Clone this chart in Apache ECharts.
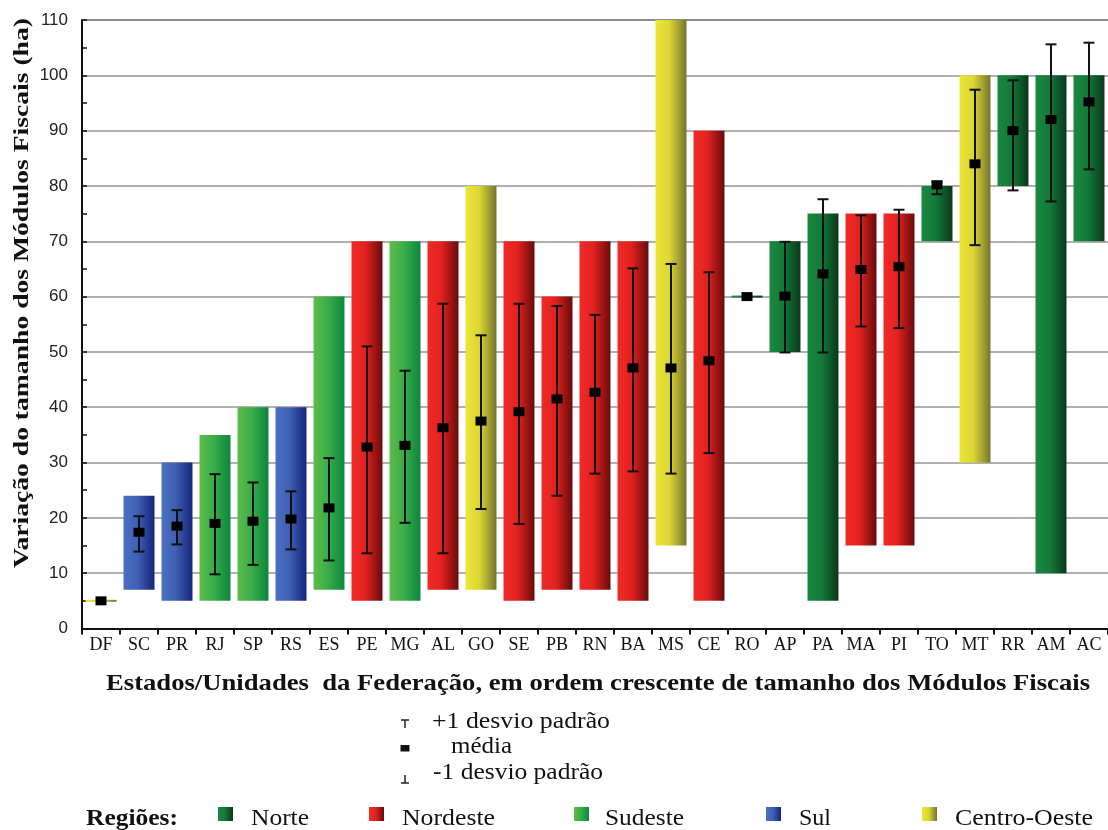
<!DOCTYPE html>
<html>
<head>
<meta charset="utf-8">
<script src="https://cdn.jsdelivr.net/npm/echarts@6/dist/echarts.min.js"></script>
<style>
  html, body { margin: 0; padding: 0; background: #fff; }
  #chart { width: 1108px; height: 830px; }
</style>
</head>
<body>
<div id="chart"></div>
<script>
// Unidades da Federação em ordem crescente de tamanho dos módulos fiscais
const states = ['DF','SC','PR','RJ','SP','RS','ES','PE','MG','AL','GO','SE','PB','RN','BA','MS','CE','RO','AP','PA','MA','PI','TO','MT','RR','AM','AC'];
const stateRegions = ['Centro-Oeste','Sul','Sul','Sudeste','Sudeste','Sul','Sudeste','Nordeste','Sudeste','Nordeste','Centro-Oeste','Nordeste','Nordeste','Nordeste','Nordeste','Centro-Oeste','Nordeste','Norte','Norte','Norte','Nordeste','Nordeste','Norte','Centro-Oeste','Norte','Norte','Norte'];

// Menor e maior módulo fiscal (ha)
const minVals = [5, 7, 5, 5, 5, 5, 7, 5, 5, 7, 7, 5, 7, 7, 5, 15, 5, 60, 50, 5, 15, 15, 70, 30, 80, 10, 70];
const maxVals = [5, 24, 30, 35, 40, 40, 60, 70, 70, 70, 80, 70, 60, 70, 70, 110, 90, 60, 70, 75, 75, 75, 80, 100, 100, 100, 100];
// Média e ±1 desvio padrão (ha)
const meanVals = [5, 17.4, 18.5, 19.0, 19.4, 19.8, 21.8, 32.8, 33.1, 36.3, 37.5, 39.2, 41.5, 42.7, 47.1, 47.1, 48.4, 60, 60.1, 64.1, 64.9, 65.4, 80.2, 84.0, 90.0, 92.0, 95.2];
const sdUpper = [null, 20.3, 21.4, 27.9, 26.4, 24.8, 30.8, 51.0, 46.6, 58.7, 53.0, 58.7, 58.3, 56.7, 65.1, 65.9, 64.4, null, 69.9, 77.6, 74.7, 75.7, 80.8, 97.4, 99.1, 105.6, 105.9];
const sdLower = [null, 13.9, 15.2, 9.8, 11.5, 14.3, 12.3, 13.6, 19.1, 13.6, 21.6, 18.9, 24.0, 28.0, 28.4, 28.0, 31.7, null, 49.9, 49.9, 54.6, 54.3, 78.5, 69.3, 79.2, 77.2, 83.0];

// Eixo Y
const yTicks = [0, 10, 20, 30, 40, 50, 60, 70, 80, 90, 100, 110];

const regionNames = ['Norte', 'Nordeste', 'Sudeste', 'Sul', 'Centro-Oeste'];
const regionColors = {
  'Norte':        ['#18893f', '#147a39', '#0a381a'],
  'Nordeste':     ['#f02a26', '#e2221f', '#680b0b'],
  'Sudeste':      ['#5fbb4b', '#3aae48', '#0c873d'],
  'Sul':          ['#4b6fc3', '#3f60b3', '#15257a'],
  'Centro-Oeste': ['#ece636', '#dbd633', '#75752f']
};

function grad(region) {
  const c = regionColors[region];
  return new echarts.graphic.LinearGradient(0, 0, 1, 0, [
    { offset: 0, color: c[0] },
    { offset: 0.45, color: c[1] },
    { offset: 1, color: c[2] }
  ]);
}

const SERIF = '"Liberation Serif", "Times New Roman", serif';

// stretch a text element horizontally so it spans a given width
const measureCtx = document.createElement('canvas').getContext('2d');
function fitScale(text, font, width) {
  measureCtx.font = font;
  return width / measureCtx.measureText(text).width;
}

const chart = echarts.init(document.getElementById('chart'), null, { renderer: 'canvas' });

const rangeData = states.map((s, i) => [i, minVals[i], maxVals[i]]);
const errData = states.map((s, i) => [i, sdLower[i], sdUpper[i]]).filter(d => d[1] != null);
const meanData = states.map((s, i) => [i, meanVals[i]]);

const xTitle = 'Estados/Unidades  da Federação, em ordem crescente de tamanho dos Módulos Fiscais';
const xTitleFont = 'bold 23px ' + SERIF;
const yTitle = 'Variação do tamanho dos Módulos Fiscais (ha)';
const yTitleFont = 'bold 22px ' + SERIF;
const legFont = '24px ' + SERIF;

const graphics = [];
graphics.push({
  type: 'text', x: 598, y: 684, scaleX: fitScale(xTitle, xTitleFont, 984),
  style: { text: xTitle, font: xTitleFont, fill: '#111', align: 'center', verticalAlign: 'middle' }
});
graphics.push({
  type: 'text', x: 22, y: 293, rotation: Math.PI / 2, scaleX: fitScale(yTitle, yTitleFont, 550),
  style: { text: yTitle, font: yTitleFont, fill: '#111', align: 'center', verticalAlign: 'middle' }
});

// key for the error bars
const kx = 405;
graphics.push(
  { type: 'line', shape: { x1: kx - 4, y1: 720, x2: kx + 4, y2: 720 }, style: { stroke: '#222', lineWidth: 1.5 } },
  { type: 'line', shape: { x1: kx, y1: 720, x2: kx, y2: 728 }, style: { stroke: '#222', lineWidth: 1.5 } },
  { type: 'rect', shape: { x: kx - 4.5, y: 745, width: 9, height: 6.5 }, style: { fill: '#111' } },
  { type: 'line', shape: { x1: kx, y1: 775, x2: kx, y2: 783 }, style: { stroke: '#222', lineWidth: 1.5 } },
  { type: 'line', shape: { x1: kx - 4, y1: 783, x2: kx + 4, y2: 783 }, style: { stroke: '#222', lineWidth: 1.5 } }
);
[
  ['+1 desvio padrão', 432, 722, 178],
  ['média', 451, 747, 61],
  ['-1 desvio padrão', 433, 773, 170]
].forEach(t => {
  graphics.push({
    type: 'text', x: t[1], y: t[2], scaleX: fitScale(t[0], legFont, t[3]),
    style: { text: t[0], font: legFont, fill: '#111', align: 'left', verticalAlign: 'middle' }
  });
});

// key for the regions
const regFont = 'bold 24px ' + SERIF;
graphics.push({
  type: 'text', x: 86, y: 819, scaleX: fitScale('Regiões:', regFont, 92),
  style: { text: 'Regiões:', font: regFont, fill: '#111', align: 'left', verticalAlign: 'middle' }
});
const regionKeyX = [218, 369, 574, 766, 922];
const regionTextX = [251, 402, 605, 799, 955];
const regionTextW = [58, 93, 79, 32, 138];
regionNames.forEach((r, k) => {
  graphics.push({
    type: 'rect', shape: { x: regionKeyX[k], y: 807, width: 15, height: 14 },
    style: { fill: grad(r) }
  });
  graphics.push({
    type: 'text', x: regionTextX[k], y: 819, scaleX: fitScale(r, legFont, regionTextW[k]),
    style: { text: r, font: legFont, fill: '#111', align: 'left', verticalAlign: 'middle' }
  });
});

const option = {
  animation: false,
  backgroundColor: '#fff',
  grid: { left: 82, right: 0, top: 20, bottom: 201.5 },
  xAxis: {
    type: 'category',
    data: states,
    axisLine: { lineStyle: { color: '#111', width: 2 } },
    axisTick: { show: true, length: 6, lineStyle: { color: '#111', width: 2 } },
    axisLabel: { fontFamily: SERIF, fontSize: 18, color: '#111', margin: 8 },
    splitLine: { show: false }
  },
  yAxis: {
    type: 'value',
    min: yTicks[0],
    max: yTicks[yTicks.length - 1],
    interval: 10,
    axisLine: { show: true, lineStyle: { color: '#111', width: 2 } },
    axisTick: { show: true, inside: true, length: 5, lineStyle: { color: '#111', width: 1.5 } },
    minorTick: { show: true, splitNumber: 2, length: 5, lineStyle: { color: '#111', width: 1.5 } },
    splitLine: {
      show: true,
      lineStyle: {
        color: ['#b0b0b0','#b0b0b0','#b0b0b0','#b0b0b0','#b0b0b0','#b0b0b0','#b0b0b0','#b0b0b0','#b0b0b0','#b0b0b0','#b0b0b0','#8c8c8c'],
        width: 2
      }
    },
    axisLabel: { fontFamily: '"Liberation Sans", Arial, sans-serif', fontSize: 17, color: '#222', margin: 14 }
  },
  series: [
    {
      name: 'faixa',
      type: 'custom',
      data: rangeData,
      encode: { x: 0, y: [1, 2] },
      z: 2,
      renderItem: function (params, api) {
        const i = api.value(0);
        const lo = api.coord([i, api.value(1)]);
        const hi = api.coord([i, api.value(2)]);
        const w = api.size([1, 0])[0] * 0.815;
        let y = hi[1];
        let h = lo[1] - hi[1];
        if (h < 2) { y = lo[1] - 1; h = 2; }
        return {
          type: 'rect',
          shape: { x: lo[0] - w / 2, y: y, width: w, height: h },
          style: { fill: grad(stateRegions[i]) }
        };
      }
    },
    {
      name: 'desvio',
      type: 'custom',
      data: errData,
      encode: { x: 0, y: [1, 2] },
      z: 3,
      renderItem: function (params, api) {
        const i = api.value(0);
        const lo = api.coord([i, api.value(1)]);
        const hi = api.coord([i, api.value(2)]);
        const cw = 5.5;
        const st = { stroke: '#111', lineWidth: 2 };
        return {
          type: 'group',
          children: [
            { type: 'line', shape: { x1: lo[0], y1: lo[1], x2: hi[0], y2: hi[1] }, style: st },
            { type: 'line', shape: { x1: hi[0] - cw, y1: hi[1], x2: hi[0] + cw, y2: hi[1] }, style: st },
            { type: 'line', shape: { x1: lo[0] - cw, y1: lo[1], x2: lo[0] + cw, y2: lo[1] }, style: st }
          ]
        };
      }
    },
    {
      name: 'média',
      type: 'scatter',
      data: meanData,
      symbol: 'rect',
      symbolSize: [11, 9],
      itemStyle: { color: '#000', opacity: 1 },
      z: 4
    }
  ],
  graphic: graphics
};

chart.setOption(option);
</script>
</body>
</html>
